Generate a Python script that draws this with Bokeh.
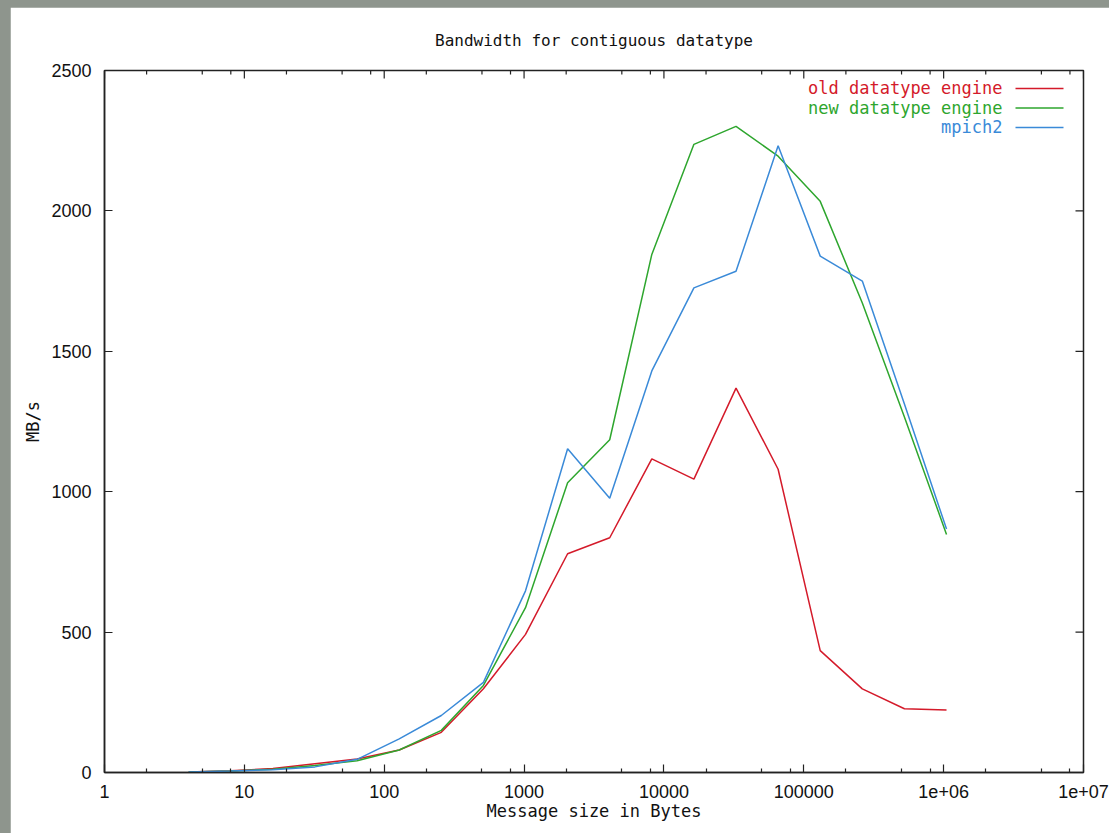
import numpy as np
from bokeh.plotting import figure
from bokeh.models import Range1d, FixedTicker, CustomJSTickFormatter
from bokeh.core.properties import value
from bokeh.embed import file_html
from bokeh.resources import INLINE

# ---------------- data ----------------
sizes = [4, 8, 16, 32, 64, 128, 256, 512, 1024, 2048, 4096, 8192, 16384,
         32768, 65536, 131072, 262144, 524288, 1048576]
old_engine = [2, 6, 14, 31, 48, 80, 143, 298, 492, 779, 836, 1117, 1045,
              1369, 1080, 434, 298, 227, 223]
new_engine = [2, 5, 12, 25, 42, 80, 150, 310, 587, 1032, 1185, 1845, 2237,
              2301, 2195, 2034, 1672, 1266, 848]
mpich2 = [2, 5, 10, 20, 47, 120, 203, 321, 647, 1153, 977, 1430, 1726,
          1785, 2232, 1839, 1750, 1312, 867]

series_names = ["old datatype engine", "new datatype engine", "mpich2"]
series_values = [old_engine, new_engine, mpich2]
series_colors = ["#d41a2a", "#2ea62e", "#3a8ad8"]

x_major = [1, 10, 100, 1000, 10000, 100000, 1000000, 10000000]
x_minor = [m * 10 ** k for k in range(0, 7) for m in (2, 5, 8)]
y_ticks = [0, 500, 1000, 1500, 2000, 2500]

title_text = "Bandwidth for contiguous datatype"
x_label = "Message size in Bytes"
y_label = "MB/s"

# ---------------- layout ----------------
PAD_L, PAD_T = 10, 7
W, H = 1109 - PAD_L, 833 - PAD_T
BL, BR, BT, BB = 94, 26, 62, 61
FW, FH = W - BL - BR, H - BT - BB
XMIN, XMAX = 1, 1e7
YMIN, YMAX = 0, 2500

MONO = "DejaVu Sans Mono"
SANS = "Liberation Sans"
AX_COLOR = "#222222"

p = figure(width=W, height=H, x_axis_type="log",
           x_range=Range1d(XMIN, XMAX), y_range=Range1d(YMIN, YMAX),
           output_backend="svg", toolbar_location=None,
           min_border_left=BL, min_border_right=BR,
           min_border_top=BT, min_border_bottom=BB,
           background_fill_color="white", border_fill_color="white")
p.outline_line_color = AX_COLOR
p.outline_line_width = 1.5
p.outline_line_alpha = 1.0
p.xgrid.visible = False
p.ygrid.visible = False

p.title.text = title_text
p.title.align = "center"
p.title.text_font = MONO
p.title.text_font_size = "16px"
p.title.text_font_style = "normal"
p.title.text_color = "#111111"
p.title.standoff = 42

xticker = FixedTicker(ticks=x_major, minor_ticks=x_minor)
yticker = FixedTicker(ticks=y_ticks, minor_ticks=[])
xfmt = CustomJSTickFormatter(code="""
const e = Math.round(Math.log10(tick));
if (e >= 6) { return '1e+' + String(e).padStart(2, '0'); }
return String(Math.round(tick));
""")


def style_axis(ax):
    ax.axis_line_color = AX_COLOR
    ax.axis_line_width = 1.5
    ax.major_tick_line_color = AX_COLOR
    ax.minor_tick_line_color = AX_COLOR
    ax.major_tick_line_width = 1.2
    ax.minor_tick_line_width = 1.2
    ax.major_tick_in = 8
    ax.major_tick_out = 0
    ax.minor_tick_in = 4
    ax.minor_tick_out = 0
    ax.major_label_text_font = SANS
    ax.major_label_text_font_size = "18px"
    ax.major_label_text_color = "#111111"
    ax.axis_label_text_font = MONO
    ax.axis_label_text_font_size = "17px"
    ax.axis_label_text_font_style = "normal"
    ax.axis_label_text_color = "#111111"


xa = p.xaxis[0]
xa.ticker = xticker
xa.formatter = xfmt
xa.axis_label = x_label
style_axis(xa)
xa.major_label_standoff = 12
xa.axis_label_standoff = 0

ya = p.yaxis[0]
ya.ticker = yticker
ya.axis_label = y_label
style_axis(ya)
ya.major_label_standoff = 13
ya.axis_label_standoff = 5


def fx(px):
    return 10 ** (np.log10(XMIN) + px / FW * (np.log10(XMAX) - np.log10(XMIN)))


def fy(py):
    return YMAX - py / FH * (YMAX - YMIN)


# mirrored inward ticks on top and right (gnuplot style)
p.segment(x0=x_major, y0=[YMAX] * len(x_major), x1=x_major, y1=[fy(8)] * len(x_major),
          line_color=AX_COLOR, line_width=1.2)
p.segment(x0=x_minor, y0=[YMAX] * len(x_minor), x1=x_minor, y1=[fy(4)] * len(x_minor),
          line_color=AX_COLOR, line_width=1.2)
p.segment(x0=[XMAX] * len(y_ticks), y0=y_ticks, x1=[fx(FW - 8)] * len(y_ticks), y1=y_ticks,
          line_color=AX_COLOR, line_width=1.2)

for vals, col in zip(series_values, series_colors):
    p.line(sizes, vals, line_color=col, line_width=1.5)

# ---------------- legend (gnuplot style: text then sample) ----------------
rows = [18 + 19.5 * i for i in range(len(series_names))]
p.text(x=[fx(898)] * 3, y=[fy(r) for r in rows], text=series_names,
       text_color=series_colors, text_align="right", text_baseline="middle",
       text_font=value(MONO), text_font_size="17px")
p.segment(x0=[fx(911)] * 3, y0=[fy(r) for r in rows],
          x1=[fx(959)] * 3, y1=[fy(r) for r in rows],
          line_color=series_colors, line_width=1.5)

html = file_html(p, INLINE)
css = ("<style>html, body {background:#8e958d !important;} "
       "body {padding:%dpx 0 0 %dpx !important; overflow:hidden;}</style>" % (PAD_T, PAD_L))
html = html.replace("</head>", css + "</head>", 1)
open("out.html", "w").write(html)
